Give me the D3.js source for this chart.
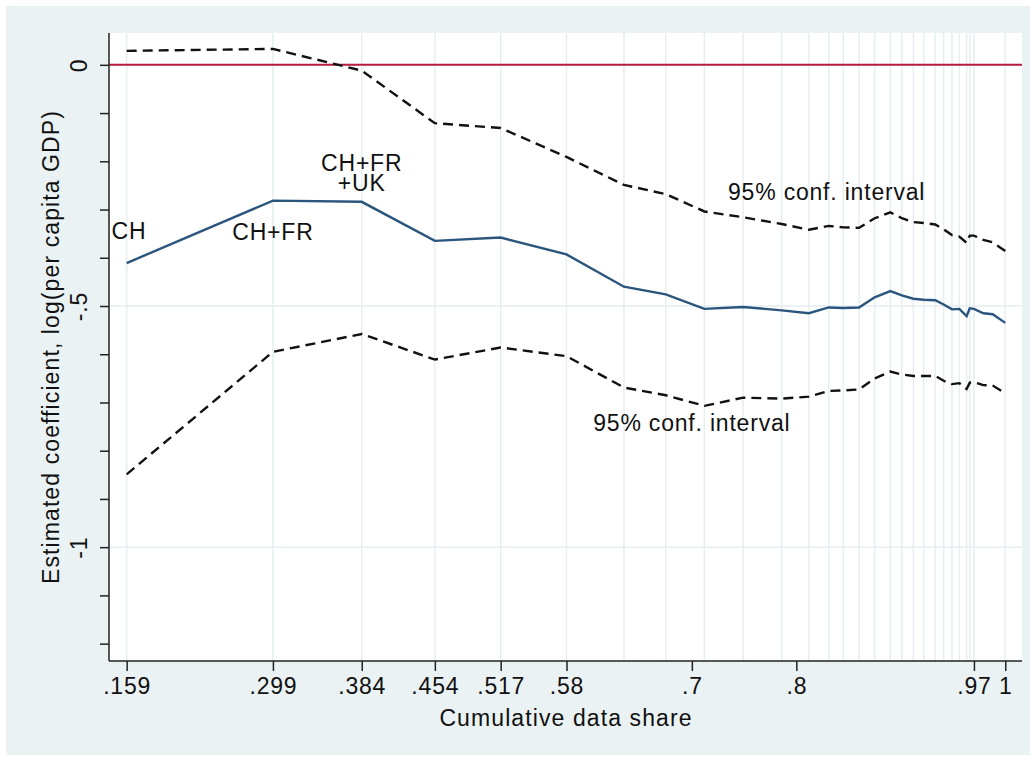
<!DOCTYPE html>
<html>
<head>
<meta charset="utf-8">
<script src="https://cdn.jsdelivr.net/npm/d3@7"></script>
<style>
  body { margin: 0; background: #fff; }
  text { font-family: "Liberation Sans", Arial, sans-serif; fill: #111; }
</style>
</head>
<body>
<svg id="chart" width="1036" height="760"></svg>
<script>
// cumulative data share at each step
const share = [0.159, 0.299, 0.384, 0.454, 0.517, 0.580, 0.635, 0.675, 0.712, 0.749, 0.786, 0.812,
  0.831, 0.845, 0.860, 0.875, 0.890, 0.901, 0.912, 0.922, 0.933, 0.941, 0.949, 0.956, 0.963,
  0.966, 0.970, 0.979, 0.988, 1.000];
const estimate = [-0.411, -0.2815, -0.284, -0.365, -0.358, -0.393, -0.460, -0.476, -0.506, -0.502, -0.509, -0.515,
  -0.503, -0.504, -0.503, -0.482, -0.469, -0.478, -0.485, -0.487, -0.488, -0.497, -0.507, -0.506, -0.521,
  -0.505, -0.506, -0.515, -0.517, -0.535];
const upperCI = [0.029, 0.033, -0.012, -0.121, -0.131, -0.191, -0.249, -0.268, -0.304, -0.316, -0.330, -0.342,
  -0.334, -0.337, -0.338, -0.318, -0.306, -0.318, -0.326, -0.328, -0.331, -0.341, -0.353, -0.356, -0.369,
  -0.354, -0.354, -0.363, -0.368, -0.386];
const lowerCI = [-0.849, -0.595, -0.558, -0.611, -0.586, -0.604, -0.669, -0.685, -0.707, -0.690, -0.692, -0.688,
  -0.676, -0.675, -0.673, -0.650, -0.636, -0.642, -0.645, -0.645, -0.645, -0.655, -0.662, -0.660, -0.672,
  -0.659, -0.658, -0.664, -0.665, -0.681];

const xTicks = [0.159, 0.299, 0.384, 0.454, 0.517, 0.58, 0.7, 0.8, 0.97, 1];
const xTickLabels = [".159", ".299", ".384", ".454", ".517", ".58", ".7", ".8", ".97", "1"];
const xGrid = share.slice(0, 27).concat([1.0]);
const yMajor = [0, -0.5, -1];
const yMajorLabels = ["0", "-.5", "-1"];
const yMinor = [-0.1, -0.2, -0.3, -0.4, -0.6, -0.7, -0.8, -0.9, -1.1, -1.2];

const notes = [
  {text: "CH", x: 0.1445, y: -0.361, anchor: "start"},
  {text: "CH+FR", x: 0.299, y: -0.363, anchor: "middle"},
  {text: "CH+FR", x: 0.384, y: -0.221, anchor: "middle"},
  {text: "+UK", x: 0.384, y: -0.262, anchor: "middle"},
  {text: "95% conf. interval", x: 0.829, y: -0.280, anchor: "middle"},
  {text: "95% conf. interval", x: 0.700, y: -0.760, anchor: "middle"}
];

const plot = {left: 109, right: 1022, top: 33, bottom: 661};

const svg = d3.select("#chart");
svg.append("rect").attr("x", 6).attr("y", 6).attr("width", 1024).attr("height", 749).attr("fill", "#eaf2f3");
svg.append("rect").attr("x", plot.left).attr("y", plot.top)
  .attr("width", plot.right - plot.left).attr("height", plot.bottom - plot.top).attr("fill", "#fff");

const x = d3.scaleLinear().domain([0.1421, 1.016]).range([plot.left, plot.right]);
const y = d3.scaleLinear().domain([0.066, -1.236]).range([plot.top, plot.bottom]);

// grid
svg.append("g").selectAll("line").data(xGrid).join("line")
  .attr("x1", d => x(d)).attr("x2", d => x(d)).attr("y1", plot.top).attr("y2", plot.bottom)
  .attr("stroke", "#e6eef1").attr("stroke-width", 1.5);
svg.append("g").selectAll("line").data(yMajor).join("line")
  .attr("x1", plot.left).attr("x2", plot.right).attr("y1", d => y(d)).attr("y2", d => y(d))
  .attr("stroke", "#e6eef1").attr("stroke-width", 1.5);

// reference line at zero
svg.append("line").attr("x1", plot.left).attr("x2", plot.right).attr("y1", y(0)).attr("y2", y(0))
  .attr("stroke", "#b71c3f").attr("stroke-width", 2);

// axes
const xAxis = d3.axisBottom(x).tickValues(xTicks).tickFormat((d, i) => xTickLabels[i]).tickSize(10).tickPadding(7);
const gx = svg.append("g").attr("transform", `translate(0,${plot.bottom})`).call(xAxis);
gx.select(".domain").attr("d", `M${plot.left},0H${plot.right}`).attr("stroke", "#222").attr("stroke-width", 1.5);
gx.selectAll(".tick line").attr("stroke", "#222").attr("stroke-width", 1.5);
gx.selectAll(".tick text").style("font-size", "23px").style("letter-spacing", "0.8px")
  .attr("font-family", null).attr("fill", "#111");

const yAxis = d3.axisLeft(y).tickValues(yMajor.concat(yMinor)).tickFormat(d => {
  const i = yMajor.indexOf(d);
  return i >= 0 ? yMajorLabels[i] : "";
}).tickSize(9).tickPadding(0);
const gy = svg.append("g").attr("transform", `translate(${plot.left},0)`).call(yAxis);
gy.select(".domain").attr("d", `M0,${plot.top}V${plot.bottom}`).attr("stroke", "#222").attr("stroke-width", 1.5);
gy.selectAll(".tick line").attr("stroke", "#222").attr("stroke-width", 1.5);
gy.selectAll(".tick text")
  .attr("x", null).attr("dy", null)
  .attr("transform", "translate(-22,0) rotate(-90)")
  .attr("text-anchor", "middle")
  .style("font-size", "23px").style("letter-spacing", "0.8px").attr("fill", "#111");

// series
const line = d3.line().x(d => x(d[0])).y(d => y(d[1]));
const series = [
  {vals: upperCI, color: "#111", dash: "10,6", w: 2.4},
  {vals: lowerCI, color: "#111", dash: "10,6", w: 2.4},
  {vals: estimate, color: "#2a557d", dash: null, w: 2.4}
];
series.forEach(s => {
  svg.append("path").datum(share.map((v, i) => [v, s.vals[i]]))
    .attr("d", line).attr("fill", "none").attr("stroke", s.color)
    .attr("stroke-width", s.w).attr("stroke-dasharray", s.dash);
});

// annotations
svg.append("g").selectAll("text").data(notes).join("text")
  .attr("x", d => x(d.x)).attr("y", d => y(d.y)).attr("text-anchor", d => d.anchor)
  .style("font-size", "23px").style("letter-spacing", "0.8px").text(d => d.text);

// titles
svg.append("text").attr("x", 566).attr("y", 726).attr("text-anchor", "middle")
  .style("font-size", "23px").style("letter-spacing", "1.1px").text("Cumulative data share");
svg.append("text").attr("transform", `translate(59,${(plot.top + plot.bottom) / 2}) rotate(-90)`)
  .attr("text-anchor", "middle").style("font-size", "23px").style("letter-spacing", "1.1px")
  .text("Estimated coefficient, log(per capita GDP)");
</script>
</body>
</html>
